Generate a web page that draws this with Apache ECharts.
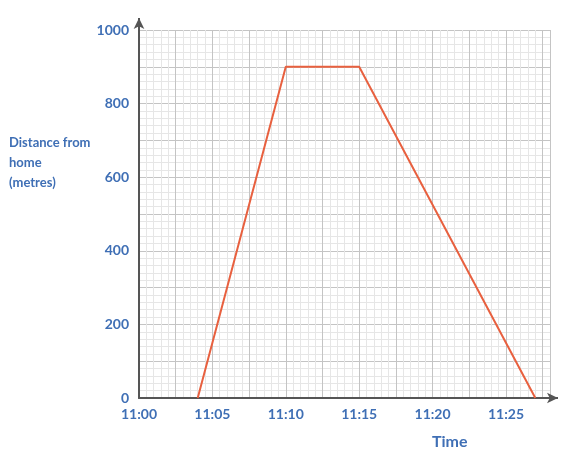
<!DOCTYPE html>
<html><head><meta charset="utf-8">
<script src="https://cdn.jsdelivr.net/npm/echarts@6/dist/echarts.min.js"></script>
<style>html,body{margin:0;padding:0;background:#fff}#c{width:562px;height:454px}</style>
</head><body><div id="c"></div>
<script>
// minutes after 11:00
var times = [4, 10, 15, 27];
var distances = [0, 900, 900, 0];
var xLabelTimes = [0, 5, 10, 15, 20, 25];
var yLabelValues = [0, 200, 400, 600, 800, 1000];

var blue = '#3f6fb5';
var font = "'Comic Sans MS', 'Lato', sans-serif";
var chart = echarts.init(document.getElementById('c'));
var data = times.map(function (t, i) { return [t, distances[i]]; });

chart.setOption({
  animation: false,
  grid: { left: 139, right: 12, top: 30, bottom: 56 },
  title: [
    { text: 'Distance from\nhome\n(metres)', left: 4, top: 128,
      textStyle: { color: blue, fontSize: 13, fontWeight: 'bold', fontFamily: font, lineHeight: 20 } },
    { text: 'Time', left: 427, top: 429,
      textStyle: { color: blue, fontSize: 16, fontWeight: 'bold', fontFamily: font } }
  ],
  xAxis: {
    type: 'value', min: 0, max: 28, interval: 2.5,
    axisLine: { show: true, lineStyle: { color: '#555', width: 2 },
      symbol: ['none', 'arrow'], symbolSize: [8, 11], symbolOffset: [0, 8] },
    axisTick: { show: false },
    axisLabel: { color: blue, fontSize: 14, fontWeight: 'bold', fontFamily: font, margin: 9,
      showMaxLabel: false,
      formatter: function (v) {
        if (xLabelTimes.indexOf(v) < 0) return '';
        return '11:' + (v < 10 ? '0' : '') + v;
      } },
    splitLine: { show: true, lineStyle: { color: '#c4c4c4', width: 1 } },
    minorTick: { show: false, splitNumber: 5 },
    minorSplitLine: { show: true, lineStyle: { color: '#e6e6e6', width: 1 } }
  },
  yAxis: {
    type: 'value', min: 0, max: 1000, interval: 100,
    axisLine: { show: true, lineStyle: { color: '#555', width: 2 },
      symbol: ['none', 'arrow'], symbolSize: [8, 11], symbolOffset: [0, 12] },
    axisTick: { show: false },
    axisLabel: { color: blue, fontSize: 14, fontWeight: 'bold', fontFamily: font, margin: 10,
      formatter: function (v) { return yLabelValues.indexOf(v) >= 0 ? String(v) : ''; } },
    splitLine: { show: true, lineStyle: { color: '#c4c4c4', width: 1 } },
    minorTick: { show: false, splitNumber: 5 },
    minorSplitLine: { show: true, lineStyle: { color: '#e6e6e6', width: 1 } }
  },
  series: [{
    type: 'line', data: data, symbol: 'none',
    lineStyle: { color: '#e8603f', width: 2 }
  }]
});

// extend the axis lines to their arrow heads
var xe = chart.convertToPixel({ gridIndex: 0 }, [28, 0]);
var ye = chart.convertToPixel({ gridIndex: 0 }, [0, 1000]);
chart.setOption({
  graphic: [
    { type: 'line', shape: { x1: ye[0], y1: ye[1], x2: ye[0], y2: ye[1] - 12 },
      style: { stroke: '#555', lineWidth: 2 } },
    { type: 'line', shape: { x1: xe[0], y1: xe[1], x2: xe[0] + 8, y2: xe[1] },
      style: { stroke: '#555', lineWidth: 2 } }
  ]
});
</script></body></html>
